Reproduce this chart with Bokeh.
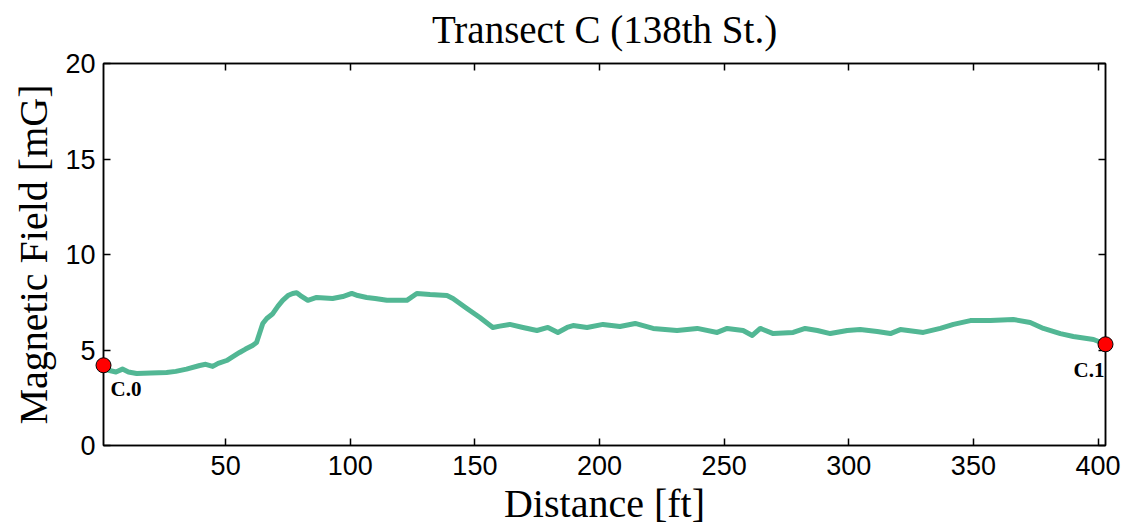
from bokeh.plotting import figure
from bokeh.models import LinearAxis, Range1d, FixedTicker, ColumnDataSource, CustomLabelingPolicy
from bokeh.core.properties import value
from bokeh.embed import file_html
from bokeh.resources import INLINE

# ---- data ----
distance_ft = [1, 3.4, 6, 8.6, 11, 14.3, 20, 26.3, 30, 34.3, 39.6, 42, 44.8, 47, 50.4,
               55.6, 58, 60.8, 62.4, 64.9, 66.5, 68.9, 71, 72.9, 75, 76.9, 78.5, 80, 83,
               86.5, 92.9, 97, 100.6, 103, 106.6, 110, 114.7, 122.7, 126.7, 132, 138.8,
               141.2, 146.8, 152, 157.2, 160, 164, 169.3, 174.9, 179.3, 183.3, 187, 189.4,
               195, 201.4, 208.2, 214.3, 221.5, 231.1, 239.2, 247.2, 251.2, 257.6, 261.3,
               264.5, 269.7, 277.7, 282.5, 287.4, 292.6, 299.4, 304.6, 311.4, 316.7, 320.7,
               329.9, 336.7, 342, 348.8, 356.8, 366, 372.8, 378.1, 384.9, 390.1, 398.2, 403]
field_mG = [4.0, 3.93, 3.85, 4.0, 3.85, 3.77, 3.8, 3.82, 3.88, 4.0, 4.19, 4.25, 4.14, 4.3, 4.45,
            4.87, 5.05, 5.24, 5.39, 6.39, 6.65, 6.9, 7.3, 7.6, 7.85, 7.96, 8.0, 7.85, 7.6,
            7.75, 7.7, 7.8, 7.96, 7.85, 7.75, 7.7, 7.6, 7.6, 7.96, 7.9, 7.85,
            7.7, 7.17, 6.7, 6.18, 6.25, 6.34, 6.18, 6.02, 6.18, 5.92, 6.18, 6.28,
            6.18, 6.34, 6.23, 6.39, 6.13, 6.02, 6.13, 5.92, 6.13, 6.02, 5.76,
            6.13, 5.86, 5.92, 6.13, 6.02, 5.86, 6.02, 6.07, 5.97, 5.86, 6.07,
            5.92, 6.13, 6.34, 6.54, 6.54, 6.6, 6.44, 6.13, 5.86, 5.71, 5.55, 5.3]

point_names = ["C.0", "C.1"]
point_dist = [1, 403]
point_field = [4.2, 5.3]

x_ticks = [50, 100, 150, 200, 250, 300, 350, 400]
y_ticks = [0, 5, 10, 15, 20]

title_text = "Transect C (138th St.)"
x_label = "Distance [ft]"
y_label = "Magnetic Field [mG]"

SERIF = "Liberation Serif"
SANS = "Liberation Sans"

X_MIN, X_MAX = 1, 403
Y_MIN, Y_MAX = 0, 20

p = figure(width=1136, height=529, output_backend="svg", toolbar_location=None,
           x_range=Range1d(X_MIN, X_MAX), y_range=Range1d(Y_MIN, Y_MAX),
           min_border_left=103, min_border_right=31, min_border_top=63, min_border_bottom=84,
           title=title_text)

p.title.text_font = SERIF
p.title.text_font_size = "39px"
p.title.text_font_style = "normal"
p.title.align = "center"
p.title.vertical_align = "top"
p.title.standoff = 0
p.title.text_color = "black"

p.xgrid.visible = False
p.ygrid.visible = False
p.outline_line_color = "black"
p.outline_line_width = 1.5
p.outline_line_alpha = 1.0

def style_axis(ax, ticks, show_labels):
    ax.ticker = FixedTicker(ticks=ticks)
    ax.major_tick_in = 7
    ax.major_tick_out = 0
    ax.minor_tick_in = 0
    ax.minor_tick_out = 0
    ax.axis_line_color = "black"
    ax.axis_line_width = 1.5
    ax.major_tick_line_color = "black"
    ax.major_tick_line_width = 1.5
    if show_labels:
        ax.major_label_text_font = SANS
        ax.major_label_text_font_size = "27px"
        ax.major_label_text_color = "black"
        ax.axis_label_text_font = SERIF
        ax.axis_label_text_font_size = "40px"
        ax.axis_label_text_font_style = "normal"
        ax.axis_label_text_color = "black"
    else:
        ax.major_label_policy = CustomLabelingPolicy(code="return new Set()")
        ax.major_label_standoff = 0

xa = p.xaxis[0]
style_axis(xa, x_ticks, True)
xa.axis_label = x_label
xa.major_label_standoff = 10
xa.axis_label_standoff = 3

ya = p.yaxis[0]
style_axis(ya, y_ticks, True)
ya.axis_label = y_label
ya.major_label_standoff = 8
ya.axis_label_standoff = 6

top_ax = LinearAxis()
style_axis(top_ax, x_ticks, False)
p.add_layout(top_ax, "above")
right_ax = LinearAxis()
style_axis(right_ax, y_ticks, False)
p.add_layout(right_ax, "right")

p.line(distance_ft, field_mG, line_color="#52b794", line_width=5, line_join="round", line_cap="round")

src = ColumnDataSource(dict(x=point_dist, y=point_field, name=point_names))
p.scatter("x", "y", source=src, size=15, fill_color="#ff0000", line_color="black", line_width=1,
          level="overlay")

p.text(x=[point_dist[0]], y=[point_field[0]], text=[point_names[0]],
       text_font=value(SERIF), text_font_style="bold", text_font_size="21px",
       text_align="left", text_baseline="top", x_offset=7, y_offset=12, text_color="black")
p.text(x=[point_dist[1]], y=[point_field[1]], text=[point_names[1]],
       text_font=value(SERIF), text_font_style="bold", text_font_size="21px",
       text_align="right", text_baseline="top", x_offset=-1, y_offset=14, text_color="black")

open("out.html", "w").write(file_html(p, INLINE))
